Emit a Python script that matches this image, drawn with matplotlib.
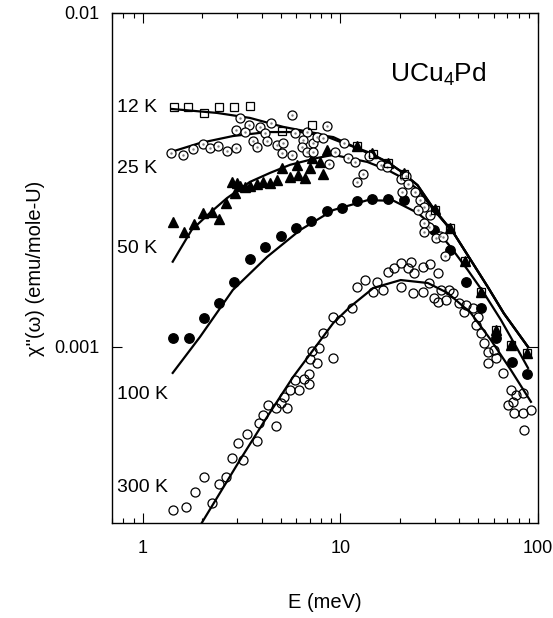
import numpy as np
import matplotlib.pyplot as plt
from matplotlib.ticker import FuncFormatter, NullLocator, NullFormatter, LogLocator

plt.rcParams['font.family'] = ['Liberation Sans', 'DejaVu Sans']
plt.rcParams['mathtext.fontset'] = 'custom'
plt.rcParams['mathtext.rm'] = 'Liberation Sans'
plt.rcParams['mathtext.it'] = 'Liberation Sans'

# chi'' values are given in units of 1e-3 emu/mole-U

# 12 K, open squares
e_12 = [1.44, 1.69, 2.04, 2.43, 2.90, 3.49, 5.08, 7.21, 12.2, 14.7, 17.5, 20.9,
        30.0, 35.8, 42.6, 51.4, 61.2, 72.9, 88.0]
chi_12 = [5.23, 5.23, 5.02, 5.23, 5.23, 5.27, 4.43, 4.63, 4.00, 3.78, 3.56, 3.30,
          2.57, 2.27, 1.81, 1.46, 1.12, 1.01, 0.96]

# 25 K, circles with a dot
e_25 = [1.40, 1.60, 1.79, 2.02, 2.19, 2.40, 2.67, 2.97, 3.11, 3.45, 2.97, 3.29,
        3.93, 4.16, 4.46, 3.62, 3.79, 4.26, 4.79, 5.14, 5.08, 5.71, 5.91, 6.80,
        6.49, 6.41, 7.30, 6.80, 5.71, 7.64, 8.59, 8.20, 7.30, 10.4, 9.43, 11.0,
        11.9, 8.79, 12.2, 13.1, 13.9, 16.0, 17.3, 20.2, 21.6, 21.9, 24.0, 20.4,
        25.2, 26.4, 24.6, 28.3, 28.0, 26.4, 31.8, 30.4, 32.9, 33.7, 26.4]
chi_25 = [3.81, 3.76, 3.92, 4.05, 3.94, 4.00, 3.86, 3.94, 4.85, 4.62, 4.46, 4.40,
          4.56, 4.37, 4.69, 4.14, 3.97, 4.14, 4.03, 4.08, 3.81, 4.95, 4.37, 4.40,
          4.17, 3.97, 4.08, 3.84, 3.76, 4.25, 4.59, 4.22, 3.84, 4.08, 3.84, 3.68,
          3.58, 3.53, 3.12, 3.30, 3.73, 3.51, 3.46, 3.18, 3.25, 3.08, 2.91, 2.91,
          2.75, 2.62, 2.57, 2.48, 2.29, 2.35, 2.15, 2.12, 2.13, 1.87, 2.21]

# 50 K, filled triangles
e_50 = [1.42, 1.62, 1.82, 2.02, 2.24, 2.43, 2.64, 2.93, 3.00, 2.83, 3.11, 3.29,
        3.49, 3.79, 4.07, 4.41, 4.79, 5.08, 5.57, 6.05, 6.12, 6.64, 7.04, 7.21,
        7.91, 8.20, 8.59, 12.2, 14.5, 17.5, 20.9, 30.0, 35.8, 42.6, 51.4, 61.2,
        72.9, 88.0]
chi_50 = [2.37, 2.21, 2.34, 2.52, 2.54, 2.42, 2.70, 2.89, 3.10, 3.12, 3.03, 3.01,
          3.03, 3.08, 3.12, 3.10, 3.16, 3.43, 3.23, 3.51, 3.27, 3.21, 3.43, 3.68,
          3.58, 3.30, 3.89, 4.00, 3.81, 3.56, 3.32, 2.59, 2.27, 1.81, 1.46, 1.12,
          1.01, 0.96]

# 100 K, filled circles
e_100 = [1.42, 1.71, 2.04, 2.43, 2.90, 3.49, 4.16, 5.02, 5.98, 7.13, 8.59, 10.2,
         12.2, 14.5, 17.5, 20.9, 29.7, 35.8, 43.1, 51.4, 61.2, 73.8, 88.0]
chi_100 = [1.06, 1.06, 1.22, 1.35, 1.57, 1.83, 1.99, 2.15, 2.27, 2.38, 2.55, 2.61,
           2.74, 2.77, 2.77, 2.75, 2.24, 1.95, 1.57, 1.31, 1.06, 0.90, 0.83]

# 300 K, open circles
e_300 = [1.42, 1.65, 1.84, 2.04, 2.24, 2.43, 2.64, 2.83, 3.22, 3.04, 3.37, 3.79,
         3.88, 4.07, 4.31, 4.73, 4.73, 5.02, 5.20, 5.38, 5.57, 5.91, 6.19, 6.57,
         6.96, 6.96, 7.04, 7.21, 7.64, 7.82, 9.22, 8.20, 9.22, 10.0, 11.5, 12.2,
         13.4, 14.7, 15.4, 16.5, 17.5, 18.6, 20.2, 20.2, 22.7, 23.2, 21.9, 23.5,
         26.1, 28.3, 31.1, 28.0, 26.1, 29.7, 32.2, 31.1, 35.3, 37.0, 34.1, 39.7,
         43.1, 42.1, 46.8, 49.6, 48.5, 51.4, 53.2, 55.8, 59.8, 61.2, 55.8, 66.4,
         72.9, 77.3, 70.4, 74.7, 83.9, 75.5, 83.9, 92.1, 84.9]
chi_300 = [0.325, 0.332, 0.368, 0.408, 0.341, 0.389, 0.408, 0.465, 0.459, 0.516,
           0.549, 0.523, 0.592, 0.626, 0.671, 0.580, 0.657, 0.680, 0.708, 0.657,
           0.743, 0.796, 0.743, 0.802, 0.830, 0.774, 0.921, 0.973, 0.896, 0.993,
           0.927, 1.101, 1.230, 1.205, 1.309, 1.512, 1.586, 1.461, 1.565, 1.481,
           1.677, 1.724, 1.784, 1.512, 1.797, 1.451, 1.724, 1.665, 1.736, 1.772,
           1.665, 1.554, 1.461, 1.401, 1.481, 1.364, 1.481, 1.451, 1.382, 1.354,
           1.336, 1.273, 1.309, 1.230, 1.164, 1.101, 1.028, 0.966, 0.979, 0.927,
           0.896, 0.836, 0.743, 0.718, 0.671, 0.685, 0.728, 0.634, 0.634, 0.648,
           0.564]

# fitted curves
fit_e_12 = [1.40, 2.38, 3.49, 5.14, 7.91, 10.0, 13.7, 17.3, 20.2, 24.6, 29.7,
            37.5, 45.7, 55.8, 67.2, 89.0]
fit_chi_12 = [5.16, 5.02, 4.85, 4.56, 4.34, 4.11, 3.84, 3.58, 3.36, 3.05, 2.59,
              2.19, 1.82, 1.51, 1.26, 1.00]
fit_e_25 = [1.40, 1.95, 2.86, 4.26, 6.27, 9.22, 13.7, 17.3, 20.2, 24.6, 29.7,
            37.5, 45.7, 55.8, 67.2, 89.0]
fit_chi_25 = [3.84, 4.08, 4.28, 4.40, 4.40, 4.25, 3.81, 3.58, 3.36, 3.05, 2.59,
              2.19, 1.82, 1.51, 1.26, 1.00]
fit_e_50 = [1.42, 1.77, 2.19, 2.67, 3.49, 4.41, 5.57, 7.64, 9.22, 13.7, 17.3,
            20.2, 24.6, 29.7, 37.5, 45.7, 55.8, 67.2, 89.0]
fit_chi_50 = [1.80, 2.24, 2.52, 2.79, 3.12, 3.32, 3.51, 3.68, 3.76, 3.58, 3.39,
              3.23, 2.97, 2.57, 2.19, 1.82, 1.51, 1.26, 1.00]
fit_e_100 = [1.42, 1.95, 2.86, 4.26, 6.27, 9.22, 13.7, 18.6, 24.6, 29.7, 36.2,
             44.1, 53.2, 64.9, 79.2, 89.0]
fit_chi_100 = [0.836, 1.071, 1.481, 1.86, 2.24, 2.57, 2.75, 2.74, 2.52, 2.29,
               1.99, 1.70, 1.451, 1.205, 0.979, 0.865]
fit_e_300 = [1.99, 3.11, 4.26, 5.77, 9.22, 11.2, 14.7, 20.2, 27.7, 34.9, 45.7,
             57.7, 72.9, 92.1]
fit_chi_300 = [0.297, 0.459, 0.617, 0.813, 1.18, 1.318, 1.502, 1.586, 1.554,
               1.451, 1.264, 1.05, 0.853, 0.685]

labels = ['12 K', '25 K', '50 K', '100 K', '300 K']
label_y = [0.814, 0.696, 0.539, 0.251, 0.069]


def scaled(v):
    return np.array(v) * 1e-3


fig = plt.figure(figsize=(5.53, 6.18), dpi=100)
ax = fig.add_axes([0.2025, 0.1537, 0.7704, 0.8253])
ax.set_xscale('log')
ax.set_yscale('log')

# fit lines
for fe, fc in [(fit_e_12, fit_chi_12), (fit_e_25, fit_chi_25), (fit_e_50, fit_chi_50),
               (fit_e_100, fit_chi_100), (fit_e_300, fit_chi_300)]:
    ax.plot(fe, scaled(fc), color='black', lw=1.6, zorder=2)

# data
ax.plot(e_300, scaled(chi_300), 'o', ms=6.5, mfc='none', mec='black', mew=0.9, zorder=3)
ax.plot(e_100, scaled(chi_100), 'o', ms=6.8, mfc='black', mec='black', zorder=3)
ax.plot(e_50, scaled(chi_50), '^', ms=7, mfc='black', mec='black', zorder=3)
ax.plot(e_25, scaled(chi_25), 'o', ms=6.5, mfc='white', mec='black', mew=0.9, zorder=4)
ax.plot(e_25, scaled(chi_25), '.', ms=1.5, color='gray', zorder=5)
ax.plot(e_12, scaled(chi_12), 's', ms=6, mfc='none', mec='black', mew=0.9, zorder=5)

ax.set_xlim(0.7, 100)
ax.set_ylim(2.97e-4, 1e-2)

for lab, y in zip(labels, label_y):
    ax.text(0.012, y, lab, transform=ax.transAxes, fontsize=14, va='center', ha='left')
ax.text(0.652, 0.88, 'UCu$_4$Pd', transform=ax.transAxes, fontsize=19, va='center', ha='left')

# ticks
ax.xaxis.set_major_locator(LogLocator(base=10, numticks=10))
ax.xaxis.set_minor_locator(LogLocator(base=10, subs=np.arange(2, 10), numticks=10))
ax.xaxis.set_minor_formatter(NullFormatter())
ax.xaxis.set_major_formatter(FuncFormatter(lambda v, p: '%g' % v))
ax.yaxis.set_minor_locator(NullLocator())
ax.yaxis.set_major_formatter(FuncFormatter(lambda v, p: '%g' % v))
ax.tick_params(which='both', direction='in', top=True, right=True, labelsize=13, width=0.8)
ax.tick_params(which='major', length=7)
ax.tick_params(which='minor', length=3.5)
ax.tick_params(axis='x', pad=12)
ax.tick_params(axis='y', pad=9)
for s in ax.spines.values():
    s.set_linewidth(1.0)

ax.set_xlabel('E (meV)', fontsize=14.5, labelpad=26)
ax.set_ylabel('χ"(ω) (emu/mole-U)', fontsize=14.5, labelpad=7)

fig.savefig('out.png', dpi=100)
